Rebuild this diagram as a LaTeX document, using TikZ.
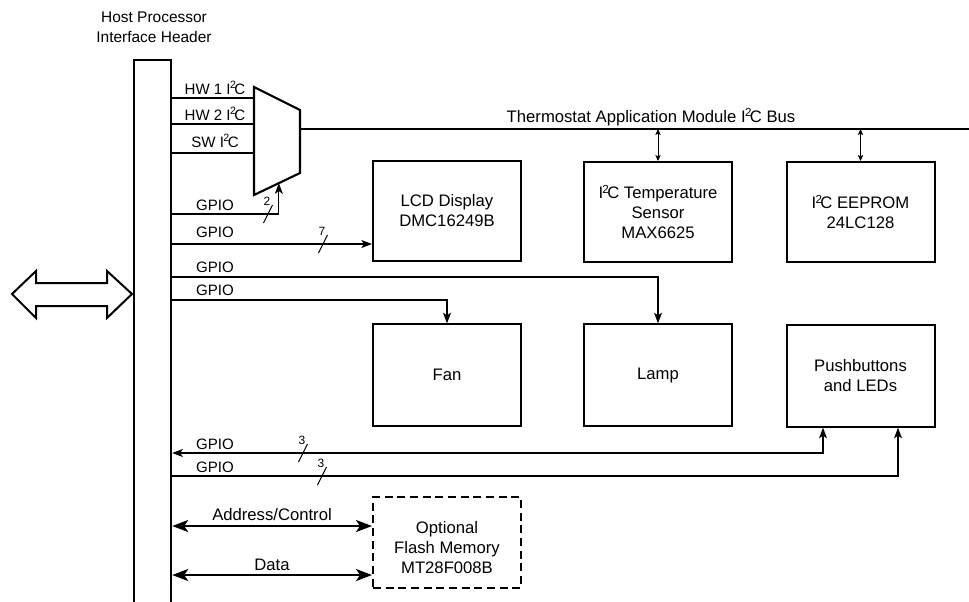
\documentclass[tikz,border=0pt]{standalone}
\usepackage{fontspec}
\setmainfont{Liberation Sans}
\usetikzlibrary{arrows.meta,calc}

\newcommand{\iic}{I\kern-0.04em\textsuperscript{2}\kern-0.14em C}

\tikzset{
  box/.style={draw, line width=1.5pt, minimum width=111pt, minimum height=76pt,
              inner sep=0pt, align=center, font=\fontsize{12.5}{15}\selectfont},
  sig/.style={line width=0.8pt},
  sigarrow/.style={-{Stealth[length=8pt,width=6pt,inset=2pt]}},
  sigboth/.style={{Stealth[length=8pt,width=6pt,inset=2pt]}-{Stealth[length=8pt,width=6pt,inset=2pt]}},
  tapboth/.style={line width=0.7pt,{Stealth[length=4.5pt,width=4pt,inset=1pt]}-{Stealth[length=4.5pt,width=4pt,inset=1pt]}},
  wide/.style={line width=1.5pt,{Stealth[length=12pt,width=9pt,inset=3pt]}-{Stealth[length=12pt,width=9pt,inset=3pt]}},
  lbl/.style={inner sep=0pt},
  biglbl/.style={inner sep=0pt, font=\fontsize{12.5}{15}\selectfont},
  small/.style={inner sep=0pt, font=\fontsize{9}{10}\selectfont}
}

\begin{document}
\begin{tikzpicture}[x=0.75pt, y=-0.75pt, font=\fontsize{11.3}{15}\selectfont]
\useasboundingbox (0,0) rectangle (969,601);

% host header
\node[lbl, align=center, font=\fontsize{11.6}{15}\selectfont] (title) at (154,27) {Host Processor\\Interface Header};
\node[draw, line width=1.8pt, minimum width=27.75pt, minimum height=435pt, inner sep=0pt]
  (header) at (152.5,350) {};
\draw[line width=1.5pt] (12,294) -- (36,271) -- (36,283) -- (107,283) -- (107,271) -- (132,294)
  -- (107,318) -- (107,306) -- (36,306) -- (36,318) -- cycle;

% mux
\draw[line width=1.6pt] (254,87) coordinate (muxtl) -- (300,110) coordinate (muxtr)
  -- (300,173) coordinate (muxbr) -- (254,195) coordinate (muxbl) -- cycle;
\coordinate (busl) at (300,129);
\coordinate (busr) at (969,129);
\draw[sig] (busl) -- (busr);
\node[biglbl] (buslbl) at (651,117) {Thermostat Application Module \iic\ Bus};

\draw[sig] (header.east |- 0,98) -- (muxtl |- 0,98);
\draw[sig] (header.east |- 0,124) -- (muxtl |- 0,124);
\draw[sig] (header.east |- 0,153) -- (muxtl |- 0,153);
\node[lbl] (hw1) at (215,88) {HW 1 \iic};
\node[lbl] (hw2) at (215,114) {HW 2 \iic};
\node[lbl] (sw) at (215,141) {SW \iic};

% blocks
\node[box, minimum height=75pt] (lcd) at (447,211) {LCD Display\\DMC16249B};
\node[box, minimum height=75pt] (temp) at (658,212) {\iic\ Temperature\\Sensor\\MAX6625};
\node[box, minimum height=75pt] (eeprom) at (860.5,212) {\iic\ EEPROM\\24LC128};
\node[box] (fan) at (447,375) {Fan};
\node[box] (lamp) at (658,375) {Lamp};
\node[box] (push) at (860.5,376) {Pushbuttons\\and LEDs};
\node[box, dashed, dash pattern=on 6pt off 3.5pt, minimum height=68.25pt] (flash) at (447,542.5) {};
\node[biglbl, align=center] (flashtxt) at (447,548) {Optional\\Flash Memory\\MT28F008B};

\draw[tapboth] (temp.north) -- (temp.north |- busl);
\draw[tapboth] (eeprom.north) -- (eeprom.north |- busl);

% gpio lines
\coordinate (muxsel) at ($(muxbl)!0.54!(muxbr)$);
\draw[sig, sigarrow] (header.east |- 0,214) -| (muxsel);
\draw[sig, sigarrow] (header.east |- 0,244) -- (lcd.west |- 0,244);
\draw[sig, sigarrow] (header.east |- 0,277) -| (lamp.north);
\draw[sig, sigarrow] (header.east |- 0,300) -| (fan.north);
\coordinate (pushin) at ($(push.south west)!0.25!(push.south east)$);
\coordinate (pushout) at ($(push.south west)!0.75!(push.south east)$);
\draw[sig, sigboth] (header.east |- 0,453) -| (pushin);
\draw[sig, sigarrow] (header.east |- 0,476) -| (pushout);

\node[lbl] (g1) at (215,205) {GPIO};
\node[lbl] (g2) at (215,232) {GPIO};
\node[lbl] (g3) at (215,267) {GPIO};
\node[lbl] (g4) at (215,290) {GPIO};
\node[lbl] (g5) at (215,444) {GPIO};
\node[lbl] (g6) at (215,467) {GPIO};

% bus widths
\foreach \x/\y/\n [count=\i] in {268/214/2, 323/244/7, 303/453/3, 322/476/3} {
  \draw[sig] (\x-4.5,\y+9) -- (\x+4.5,\y-9);
  \node[small] (w\i) at (\x-1,\y-13) {\n};
}

% memory bus
\draw[wide] (header.east |- 0,526) -- (flash.west |- 0,526);
\draw[wide] (header.east |- 0,575) -- (flash.west |- 0,575);
\node[biglbl] (addr) at (272,515) {Address/Control};
\node[biglbl] (data) at (272,565) {Data};
\end{tikzpicture}
\end{document}
